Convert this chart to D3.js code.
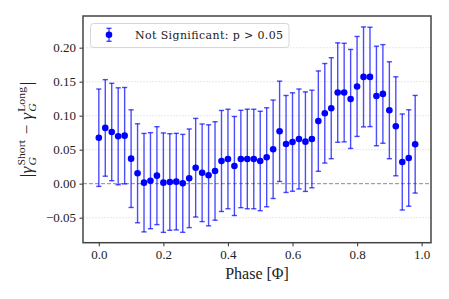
<!DOCTYPE html>
<html lang="en">
<head>
  <meta charset="UTF-8">
  <title>Phase difference</title>
  <script src="https://cdnjs.cloudflare.com/ajax/libs/d3/7.8.5/d3.min.js"></script>
  <style>
    body { margin: 0; background: #fff; }
  </style>
</head>
<body>
  <script>
var width = 449, height = 299;
var margin = {top: 16, right: 18, bottom: 56.3, left: 83};

var serif = "'Liberation Serif', 'DejaVu Serif', serif";
var wideSerif = "'DejaVu Serif', 'Liberation Serif', serif";
var blue = "#0000ff";

// phase bins (0.00 .. 0.98)
var phase = [0.00, 0.02, 0.04, 0.06, 0.08, 0.10, 0.12, 0.14, 0.16, 0.18,
             0.20, 0.22, 0.24, 0.26, 0.28, 0.30, 0.32, 0.34, 0.36, 0.38,
             0.40, 0.42, 0.44, 0.46, 0.48, 0.50, 0.52, 0.54, 0.56, 0.58,
             0.60, 0.62, 0.64, 0.66, 0.68, 0.70, 0.72, 0.74, 0.76, 0.78,
             0.80, 0.82, 0.84, 0.86, 0.88, 0.90, 0.92, 0.94, 0.96, 0.98];

var diff = [0.0676, 0.0820, 0.0760, 0.0697, 0.0706, 0.0368, 0.0153, 0.0015, 0.0044, 0.0118,
            0.0015, 0.0025, 0.0030, 0.0005, 0.0079, 0.0235, 0.0160, 0.0123, 0.0187, 0.0334,
            0.0363, 0.0260, 0.0363, 0.0363, 0.0363, 0.0334, 0.0388, 0.0506, 0.0770, 0.0584,
            0.0613, 0.0657, 0.0618, 0.0657, 0.0920, 0.1035, 0.1110, 0.1340, 0.1340, 0.1246,
            0.1430, 0.1570, 0.1570, 0.1290, 0.1320, 0.1080, 0.0844, 0.0319, 0.0378, 0.0580];

var err = [0.0716, 0.0710, 0.0716, 0.0713, 0.0709, 0.0718, 0.0728, 0.0724, 0.0706, 0.0720,
           0.0731, 0.0710, 0.0710, 0.0720, 0.0725, 0.0725, 0.0718, 0.0743, 0.0724, 0.0743,
           0.0732, 0.0728, 0.0716, 0.0732, 0.0732, 0.0731, 0.0728, 0.0724, 0.0738, 0.0713,
           0.0724, 0.0735, 0.0732, 0.0718, 0.0738, 0.0732, 0.0743, 0.0731, 0.0725, 0.0728,
           0.0735, 0.0735, 0.0731, 0.0732, 0.0725, 0.0713, 0.0728, 0.0706, 0.0709, 0.0718];

var xTicks = [0.0, 0.2, 0.4, 0.6, 0.8, 1.0];
var yTicks = [-0.05, 0.00, 0.05, 0.10, 0.15, 0.20];

var svg = d3.select("body").append("svg")
    .attr("width", width)
    .attr("height", height)
    .style("background-color", "#fff");

var x = d3.scaleLinear().domain([-0.049, 1.029])
    .range([margin.left, width - margin.right]);
var y = d3.scaleLinear().domain([-0.0868, 0.2466])
    .range([height - margin.bottom, margin.top]);

// light grid on y ticks
svg.append("g").selectAll("line")
    .data(yTicks.filter(function(d) { return d !== 0; }))
  .enter().append("line")
    .attr("x1", x.range()[0]).attr("x2", x.range()[1])
    .attr("y1", function(d) { return y(d); })
    .attr("y2", function(d) { return y(d); })
    .attr("stroke", "#e4e4e4")
    .attr("stroke-width", 0.8)
    .attr("stroke-dasharray", "2,1");

// zero reference line
svg.append("line")
    .attr("x1", x.range()[0]).attr("x2", x.range()[1])
    .attr("y1", y(0)).attr("y2", y(0))
    .attr("stroke", "#8c8c8c")
    .attr("stroke-width", 1)
    .attr("stroke-dasharray", "4,2");

// error bars
var pts = phase.map(function(p, i) { return {x: p, y: diff[i], e: err[i]}; });
var eb = svg.append("g").attr("stroke", blue).attr("stroke-opacity", 0.7).attr("stroke-width", 1.4);
eb.selectAll(".v").data(pts).enter().append("line")
    .attr("x1", function(d) { return x(d.x); }).attr("x2", function(d) { return x(d.x); })
    .attr("y1", function(d) { return y(d.y - d.e); })
    .attr("y2", function(d) { return y(d.y + d.e); });
[-1, 1].forEach(function(s) {
  eb.selectAll(".c" + s).data(pts).enter().append("line")
      .attr("x1", function(d) { return x(d.x) - 2.6; }).attr("x2", function(d) { return x(d.x) + 2.6; })
      .attr("y1", function(d) { return y(d.y + s * d.e); })
      .attr("y2", function(d) { return y(d.y + s * d.e); });
});

svg.append("g").selectAll("circle").data(pts).enter().append("circle")
    .attr("cx", function(d) { return x(d.x); })
    .attr("cy", function(d) { return y(d.y); })
    .attr("r", 3.3)
    .style("fill", blue);

// axes
var xAxis = svg.append("g")
    .attr("transform", "translate(0," + (height - margin.bottom) + ")")
    .call(d3.axisBottom(x).tickValues(xTicks).tickFormat(d3.format(".1f")).tickSize(3.5).tickSizeOuter(0));
var yAxis = svg.append("g")
    .attr("transform", "translate(" + margin.left + ",0)")
    .call(d3.axisLeft(y).tickValues(yTicks).tickFormat(function(d) {
      return d3.format(".2f")(d).replace("-", "\u2212");
    }).tickSize(3.5).tickSizeOuter(0));

[xAxis, yAxis].forEach(function(a) {
  a.select(".domain").remove();
  a.selectAll(".tick line").attr("stroke", "#404040").attr("stroke-width", 1.1);
  a.selectAll("text").attr("font-family", serif).attr("font-size", 13).attr("fill", "#222");
});
xAxis.selectAll("text").attr("dy", "0.71em").attr("y", 7);
yAxis.selectAll("text").attr("x", -7);

// frame
svg.append("rect")
    .attr("x", x.range()[0]).attr("y", margin.top)
    .attr("width", x.range()[1] - x.range()[0])
    .attr("height", height - margin.bottom - margin.top)
    .attr("fill", "none")
    .attr("stroke", "#444")
    .attr("stroke-width", 1.5);

// x label
svg.append("text")
    .attr("x", (x.range()[0] + x.range()[1]) / 2)
    .attr("y", 279)
    .attr("text-anchor", "middle")
    .attr("font-family", serif)
    .attr("font-size", 16)
    .attr("fill", "#222")
    .text("Phase [\u03A6]");

// y label built from pieces: |γ_G^Short − γ_G^Long|
var yl = svg.append("g");
var pieces = [
  {t: "|"}, {t: "\u03B3", it: true}, {sup: "Short", sub: "G"},
  {t: "\u00A0\u2212\u00A0"}, {t: "\u03B3", it: true}, {sup: "Long", sub: "G"}, {t: "|"}
];
var cx = 0;
pieces.forEach(function(p) {
  if (p.t) {
    var tt = yl.append("text").attr("x", cx).attr("y", 0)
        .attr("font-family", serif).attr("font-size", 16).attr("fill", "#222")
        .attr("font-style", p.it ? "italic" : "normal").text(p.t);
    cx += tt.node().getComputedTextLength() + 0.5;
  } else {
    var a = yl.append("text").attr("x", cx + 0.5).attr("y", -7.5)
        .attr("font-family", serif).attr("font-size", 11).attr("fill", "#222").text(p.sup);
    var b = yl.append("text").attr("x", cx + 0.5).attr("y", 4)
        .attr("font-family", serif).attr("font-size", 11).attr("font-style", "italic")
        .attr("fill", "#222").text(p.sub);
    cx += Math.max(a.node().getComputedTextLength(), b.node().getComputedTextLength()) + 2;
  }
});
var labelLen = 96;
yl.attr("transform", "translate(32," + ((y.range()[0] + y.range()[1]) / 2) + ") rotate(-90) translate(" +
    (-labelLen / 2) + ",0) scale(" + (labelLen / cx) + ",1)");

// legend
var lg = svg.append("g");
lg.append("rect")
    .attr("x", 90.5).attr("y", 23.5).attr("width", 198.5).attr("height", 24)
    .attr("rx", 3)
    .attr("fill", "#fff").attr("fill-opacity", 0.8)
    .attr("stroke", "#d6d6d6").attr("stroke-width", 1);
var lgc = lg.append("g").attr("stroke", blue).attr("stroke-opacity", 0.7).attr("stroke-width", 1.4);
lgc.append("line").attr("x1", 109).attr("x2", 109).attr("y1", 28.3).attr("y2", 41.3);
lgc.append("line").attr("x1", 106.4).attr("x2", 111.6).attr("y1", 28.3).attr("y2", 28.3);
lgc.append("line").attr("x1", 106.4).attr("x2", 111.6).attr("y1", 41.3).attr("y2", 41.3);
lg.append("circle").attr("cx", 109).attr("cy", 34.8).attr("r", 3.3).style("fill", blue);
lg.append("text")
    .attr("x", 135).attr("y", 38.8)
    .attr("font-family", wideSerif).attr("font-size", 11).attr("fill", "#222")
    .attr("textLength", 148).attr("lengthAdjust", "spacing")
    .text("Not Significant: p > 0.05");
  </script>
</body>
</html>
